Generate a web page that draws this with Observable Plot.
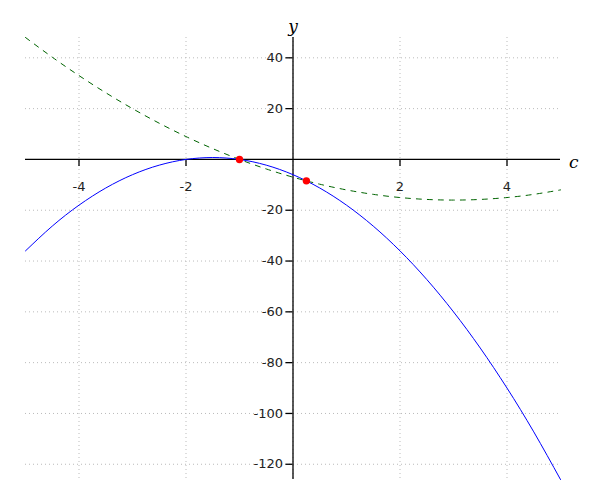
<!DOCTYPE html>
<html>
<head>
<meta charset="utf-8">
<script src="https://cdn.jsdelivr.net/npm/d3@7"></script>
<script src="https://cdn.jsdelivr.net/npm/@observablehq/plot@0.6"></script>
<style>
  body { margin: 0; background: #fff; }
  #chart svg { display: block; }
</style>
</head>
<body>
<div id="chart"></div>
<script>
// Sample positions along the c axis
const cValues = [-5, -4.5, -4, -3.5, -3, -2.5, -2, -1.5, -1, -0.5, 0, 0.5, 1, 1.5, 2, 2.5, 3, 3.5, 4, 4.5, 5];
// Blue solid curve
const blueValues = [-36, -26.25, -18, -11.25, -6, -2.25, 0, 0.75, 0, -2.25, -6, -11.25, -18, -26.25, -36, -47.25, -60, -74.25, -90, -107.25, -126];
// Green dashed curve
const greenValues = [48, 40.25, 33, 26.25, 20, 14.25, 9, 4.25, 0, -3.75, -7, -9.75, -12, -13.75, -15, -15.75, -16, -15.75, -15, -13.75, -12];
// Intersection points
const pointC = [-1, 0.25];
const pointY = [0, -8.4375];
// Ticks
const xTicks = [-4, -2, 2, 4];
const xGrid = [-4, -2, 0, 2, 4];
const yTicks = [40, 20, -20, -40, -60, -80, -100, -120];

const blue = cValues.map((c, i) => ({c, y: blueValues[i]}));
const green = cValues.map((c, i) => ({c, y: greenValues[i]}));
const points = pointC.map((c, i) => ({c, y: pointY[i]}));

const sans = "DejaVu Sans, sans-serif";

const chart = Plot.plot({
  width: 600,
  height: 500,
  marginLeft: 25,
  marginRight: 40,
  marginTop: 37,
  marginBottom: 21,
  x: {domain: [-5, 5], axis: null},
  y: {domain: [-126, 48], axis: null},
  style: {background: "#fff", fontFamily: sans},
  marks: [
    // grid
    Plot.ruleX(xGrid, {x: d => d, stroke: "#bbb", strokeWidth: 1, strokeDasharray: "1,3"}),
    Plot.ruleY(yTicks, {y: d => d, stroke: "#bbb", strokeWidth: 1, strokeDasharray: "1,3"}),
    // axes
    Plot.ruleY([0], {stroke: "#000", strokeWidth: 1.3}),
    Plot.ruleX([0], {stroke: "#000", strokeWidth: 1.3}),
    // tick marks
    Plot.ruleX(xTicks, {x: d => d, y1: 0, y2: 0, insetBottom: -7, stroke: "#000", strokeWidth: 1.3}),
    Plot.ruleY(yTicks, {y: d => d, x1: 0, x2: 0, insetLeft: -7, stroke: "#000", strokeWidth: 1.3}),
    // tick labels
    Plot.text(xTicks, {x: d => d, y: 0, text: d => String(d), dy: 27, fontSize: 13, fill: "#222", fontFamily: sans}),
    Plot.text(yTicks, {y: d => d, x: 0, text: d => String(d), dx: -10, textAnchor: "end", fontSize: 13, fill: "#222", fontFamily: sans}),
    // curves
    Plot.line(green, {x: "c", y: "y", curve: "natural", stroke: "#006400", strokeWidth: 1, strokeDasharray: "5,6"}),
    Plot.line(blue, {x: "c", y: "y", curve: "natural", stroke: "#0000ff", strokeWidth: 1}),
    // points
    Plot.dot(points, {x: "c", y: "y", r: 3.7, fill: "#ff0000", stroke: "none"}),
    // axis labels
    Plot.text(["y"], {x: 0, frameAnchor: "top", dy: -18, text: d => d, fontSize: 17, fontStyle: "italic", fontFamily: "DejaVu Serif, serif", fill: "#000"}),
    Plot.text(["c"], {y: 0, frameAnchor: "right", dx: 18, dy: 3, text: d => d, fontSize: 17, fontStyle: "italic", fontFamily: "DejaVu Serif, serif", fill: "#000"})
  ]
});
document.getElementById("chart").appendChild(chart);
</script>
</body>
</html>
